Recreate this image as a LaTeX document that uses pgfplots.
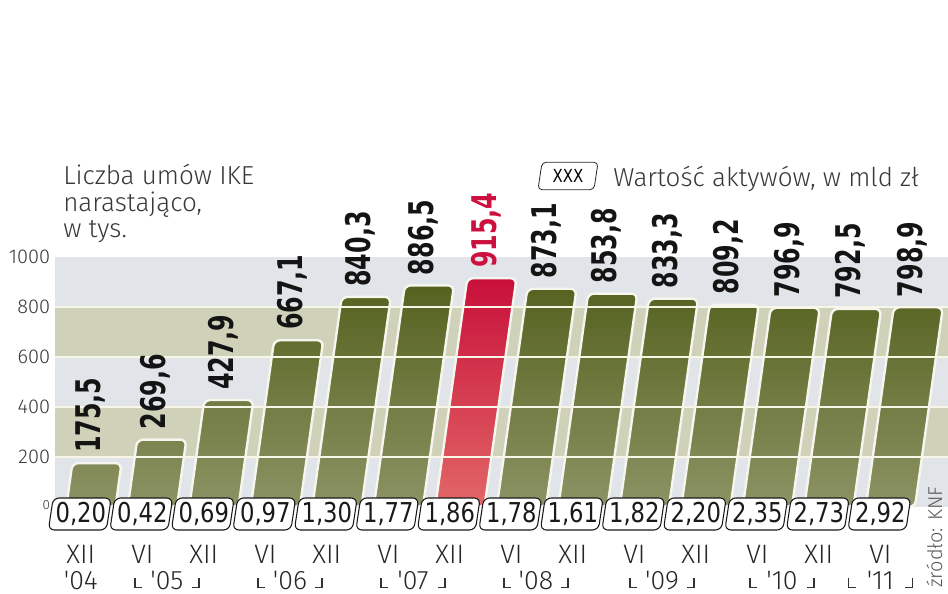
\documentclass[border=0pt]{standalone}
\usepackage{fontspec}
\setmainfont{Fira Sans Light}
\newfontfamily\boldnum[FakeStretch=0.7]{DejaVu Sans}
\newfontfamily\boxnum[FakeStretch=0.83]{DejaVu Sans}
\usepackage{pgfplots}
\pgfplotsset{compat=1.18}
\definecolor{olivetop}{HTML}{55621F}
\definecolor{olivebot}{HTML}{8C9364}
\definecolor{redtop}{HTML}{C8103A}
\definecolor{redbot}{HTML}{E26767}
\definecolor{bandgray}{HTML}{E1E4E8}
\definecolor{bandolive}{HTML}{D0D1B9}
\definecolor{gridc}{HTML}{F8F6E6}
\definecolor{barline}{HTML}{F6F5EE}
\definecolor{txt}{HTML}{383838}
\definecolor{redlab}{HTML}{CC1040}
\pgfplotsset{
  mybar/.style={ybar, bar width=0.8, bar shift=7.5pt, xslant=0.14},
}
\tikzset{
  barlab/.style={font=\boldnum\bfseries\fontsize{25.5}{26}\selectfont,
    rotate=90, anchor=west, inner sep=0pt, inner xsep=7.5pt,
    /pgf/number format/fixed, /pgf/number format/fixed zerofill, /pgf/number format/precision=1,
    /pgf/number format/use comma, /pgf/number format/1000 sep={}, /pgf/number format/assume math mode=true},
}
\begin{document}
\begin{tikzpicture}
\path[use as bounding box] (0,0) rectangle (711pt,444.75pt);
\begin{axis}[
  at={(41.25pt,64.5pt)}, anchor=south west,
  width=669.75pt, height=187.5pt, scale only axis,
  xmin=-0.42, xmax=14.1, ymin=0, ymax=1000,
  enlargelimits=false, clip=false,
  axis line style={draw=none}, major tick length=0pt,
  ytick={0,200,400,600,800,1000},
  yticklabels={{\raisebox{3pt}{\fontsize{10}{10}\selectfont 0}},200,400,600,800,1000},
  yticklabel style={font=\fontsize{15}{15}\selectfont, text=txt, anchor=east, inner sep=0pt, xshift=-3.5pt},
  xtick={0,...,13},
  xticklabels={XII,VI,XII,VI,XII,VI,XII,VI,XII,VI,XII,VI,XII,VI},
  xticklabel style={font=\fontsize{20}{20}\selectfont, text=black!85, anchor=base, inner sep=0pt, yshift=-42pt},
]
% background bands
\fill[bandgray] (axis cs:-0.42,0) rectangle (axis cs:14.1,200);
\fill[bandolive] (axis cs:-0.42,200) rectangle (axis cs:14.1,400);
\fill[bandgray] (axis cs:-0.42,400) rectangle (axis cs:14.1,600);
\fill[bandolive] (axis cs:-0.42,600) rectangle (axis cs:14.1,800);
\fill[bandgray] (axis cs:-0.42,800) rectangle (axis cs:14.1,1000);
% bars
\addplot[mybar, draw=barline, line width=1.8pt, rounded corners=4.5pt,
  top color=olivetop, bottom color=olivebot] coordinates {
  (0,175.5) (1,269.6) (2,427.9) (3,667.1) (4,840.3) (5,886.5)
  (7,873.1) (8,853.8) (9,833.3) (10,809.2) (11,796.9) (12,792.5) (13,798.9)};
\addplot[mybar, draw=barline, line width=1.8pt, rounded corners=4.5pt,
  top color=redtop, bottom color=redbot] coordinates {(6,915.4)};
% grid lines
\draw[gridc, line width=1.5pt] (axis cs:-0.42,200) -- (axis cs:14.1,200);
\draw[gridc, line width=1.5pt] (axis cs:-0.42,400) -- (axis cs:14.1,400);
\draw[gridc, line width=1.5pt] (axis cs:-0.42,600) -- (axis cs:14.1,600);
\draw[gridc, line width=1.5pt] (axis cs:-0.42,800) -- (axis cs:14.1,800);
% value labels
\addplot[mybar, draw=none, fill=none, nodes near coords,
  every node near coord/.style={text=black!92, xshift=3pt, barlab}]
  coordinates {
  (0,175.5) (1,269.6) (2,427.9) (3,667.1) (4,840.3) (5,886.5)
  (7,873.1) (8,853.8) (9,833.3) (10,809.2) (11,796.9) (12,792.5) (13,798.9)};
\addplot[mybar, draw=none, fill=none, nodes near coords,
  every node near coord/.style={text=redlab, xshift=3pt, barlab}]
  coordinates {(6,915.4)};
% boxes with asset values
\addplot[draw=none, mark=none, point meta=explicit, nodes near coords={},
  every node near coord/.style={draw=black!90, fill=white, line width=0.8pt, rounded corners=4.5pt,
    minimum width=43.5pt, minimum height=24pt, inner sep=0pt, xslant=0.15, transform shape,
    anchor=center, yshift=-5.25pt}]
  coordinates {(0,0) [0.20] (1,0) [0.42] (2,0) [0.69] (3,0) [0.97] (4,0) [1.30] (5,0) [1.77] (6,0) [1.86]
  (7,0) [1.78] (8,0) [1.61] (9,0) [1.82] (10,0) [2.20] (11,0) [2.35] (12,0) [2.73] (13,0) [2.92]};
\addplot[draw=none, mark=none, point meta=explicit, nodes near coords,
  every node near coord/.style={font=\boxnum\fontsize{20.5}{21}\selectfont, text=black!90,
    inner sep=0pt, anchor=center, yshift=-5.25pt,
    /pgf/number format/.cd, fixed, fixed zerofill, precision=2, use comma, assume math mode=true}]
  coordinates {(0,0) [0.20] (1,0) [0.42] (2,0) [0.69] (3,0) [0.97] (4,0) [1.30] (5,0) [1.77] (6,0) [1.86]
  (7,0) [1.78] (8,0) [1.61] (9,0) [1.82] (10,0) [2.20] (11,0) [2.35] (12,0) [2.73] (13,0) [2.92]};
\coordinate (y04) at (axis cs:0,0);
\coordinate (y05) at (axis cs:1.4,0);
\coordinate (y06) at (axis cs:3.4,0);
\coordinate (y07) at (axis cs:5.4,0);
\coordinate (y08) at (axis cs:7.4,0);
\coordinate (y09) at (axis cs:9.45,0);
\coordinate (y10) at (axis cs:11.4,0);
\coordinate (y11) at (axis cs:13,0);
\end{axis}
% year labels
\node[anchor=base, font=\fontsize{20}{20}\selectfont, text=black!85, inner sep=0pt] at ([yshift=-62pt]y04) {\textquotesingle04};
\foreach \y in {05,06,07,08,09,10,11}{
  \node[anchor=base, font=\fontsize{20}{20}\selectfont, text=black!85, inner sep=0pt] at ([yshift=-62pt]y\y) {\textquotesingle\y};
  \draw[black!80, line width=0.9pt] ([xshift=-24pt, yshift=-53.5pt]y\y) -- ([xshift=-24pt, yshift=-60.25pt]y\y) -- ([xshift=-18.5pt, yshift=-60.25pt]y\y);
  \draw[black!80, line width=0.9pt] ([xshift=24pt, yshift=-53.5pt]y\y) -- ([xshift=24pt, yshift=-60.25pt]y\y) -- ([xshift=18.5pt, yshift=-60.25pt]y\y);
}
% title
\node[anchor=base west, font=\fontsize{19.5}{20}\selectfont, text=txt, inner sep=0pt] at (47.25pt,306pt) {Liczba umów IKE};
\node[anchor=base west, font=\fontsize{19.5}{20}\selectfont, text=txt, inner sep=0pt] at (47.25pt,285.75pt) {narastająco,};
\node[anchor=base west, font=\fontsize{19.5}{20}\selectfont, text=txt, inner sep=0pt] at (47.25pt,266.25pt) {w tys.};
% legend
\node[draw=black!85, line width=0.6pt, rounded corners=3pt, xslant=0.15, transform shape,
  minimum width=42pt, minimum height=20.5pt, inner sep=0pt] at (426pt,312.75pt) {};
\node[font=\boxnum\fontsize{13.5}{14}\selectfont, inner sep=0pt] at (426pt,312.75pt) {XXX};
\node[anchor=base west, font=\fontsize{19.5}{20}\selectfont, text=txt, inner sep=0pt] at (459.75pt,304.5pt) {Wartość aktywów, w mld zł};
% source
\node[rotate=90, anchor=base west, font=\fontsize{15}{15}\selectfont, text=black!65, inner sep=0pt] at (706.5pt,3.75pt) {źródło: KNF};
\end{tikzpicture}
\end{document}
